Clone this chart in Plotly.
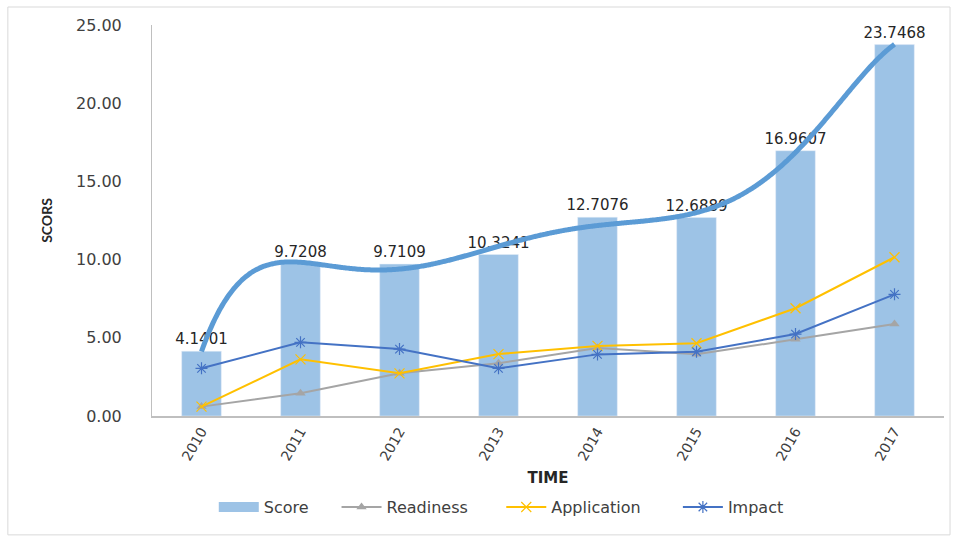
import numpy as np
import plotly.graph_objects as go

years = ["2010", "2011", "2012", "2013", "2014", "2015", "2016", "2017"]
score = [4.1401, 9.7208, 9.7109, 10.3241, 12.7076, 12.6889, 16.9607, 23.7468]
readiness = [0.60, 1.45, 2.73, 3.37, 4.35, 3.95, 4.90, 5.88]
application = [0.60, 3.62, 2.73, 3.96, 4.48, 4.65, 6.89, 10.15]
impact = [3.05, 4.71, 4.28, 3.05, 3.94, 4.11, 5.24, 7.78]

xs = list(range(len(years)))

# Polynomial trendline of the score (as drawn in the original chart)
coef = np.polyfit(xs, score, 6)
tx = np.linspace(0, len(years) - 1, 400)
ty = np.polyval(coef, tx)

FONT = "DejaVu Sans"
TXT = "#404040"

fig = go.Figure()
fig.add_trace(go.Bar(
    x=xs, y=score, name="Score", marker_color="#9DC3E6", width=0.4,
    text=[f"{v:.4f}" for v in score], textposition="outside", constraintext="none",
    textfont=dict(size=15, color="#262626", family=FONT), cliponaxis=False,
    showlegend=False, legendgroup="score",
))
fig.add_trace(go.Scatter(
    x=tx, y=ty, mode="lines", line=dict(color="#5B9BD5", width=5, shape="spline"),
    showlegend=False, hoverinfo="skip", cliponaxis=False, legendgroup="score",
))
# legend entry for the score bars (wide box, as in the original)
fig.add_trace(go.Scatter(
    x=[None], y=[None], name="Score", mode="lines", line=dict(color="#9DC3E6", width=10),
    legendgroup="score", legend="legend",
))
fig.add_trace(go.Scatter(
    x=xs, y=readiness, name="Readiness", mode="lines+markers",
    line=dict(color="#A5A5A5", width=2),
    marker=dict(symbol="triangle-up", size=9, color="#A5A5A5"), legend="legend2",
))
fig.add_trace(go.Scatter(
    x=xs, y=application, name="Application", mode="lines+markers",
    line=dict(color="#FFC000", width=2),
    marker=dict(symbol="x-thin-open", size=10, line=dict(color="#FFC000", width=1.2)),
    legend="legend3",
))
fig.add_trace(go.Scatter(
    x=xs, y=impact, name="Impact", mode="lines+markers",
    line=dict(color="#4472C4", width=2),
    marker=dict(symbol="asterisk-open", size=10, line=dict(color="#4472C4", width=1.2)),
    legend="legend4",
))

def leg(x):
    return dict(orientation="h", x=x, xanchor="left", y=-0.233, yanchor="middle",
                font=dict(size=16, color=TXT, family=FONT), itemwidth=40,
                bgcolor="rgba(0,0,0,0)")

fig.update_layout(
    width=957, height=540,
    margin=dict(l=152, r=13, t=25, b=124),
    plot_bgcolor="white", paper_bgcolor="white",
    font=dict(family=FONT, color=TXT),
    showlegend=True,
    legend=leg(0.078),
    legend2=leg(0.233),
    legend3=leg(0.441),
    legend4=leg(0.664),
    xaxis=dict(
        range=[-0.5, len(years) - 0.5], tickvals=xs, ticktext=years,
        showline=True, linecolor="#BFBFBF", linewidth=1.5, zeroline=False,
        showgrid=False, ticks="", tickangle=-60,
        tickfont=dict(size=14, color=TXT, family=FONT),
        title=dict(text="<b>TIME</b>", font=dict(size=15, color="#262626", family=FONT), standoff=10),
    ),
    yaxis=dict(
        range=[0, 25], dtick=5, tickformat=".2f", showline=True, linecolor="#BFBFBF", linewidth=1,
        showgrid=False, ticks="", zeroline=False,
        tickfont=dict(size=16, color=TXT, family=FONT), ticklabelstandoff=26,
        title=dict(text="<b>SCORS</b>", font=dict(size=14, color="#262626", family="Lato"), standoff=20),
    ),
    shapes=[dict(type="rect", xref="paper", yref="paper", x0=-0.182, x1=1.0076, y0=-0.304, y1=1.046,
                 line=dict(color="#D9D9D9", width=1), fillcolor="rgba(0,0,0,0)", layer="below")],
)

fig.write_html("out.html")
